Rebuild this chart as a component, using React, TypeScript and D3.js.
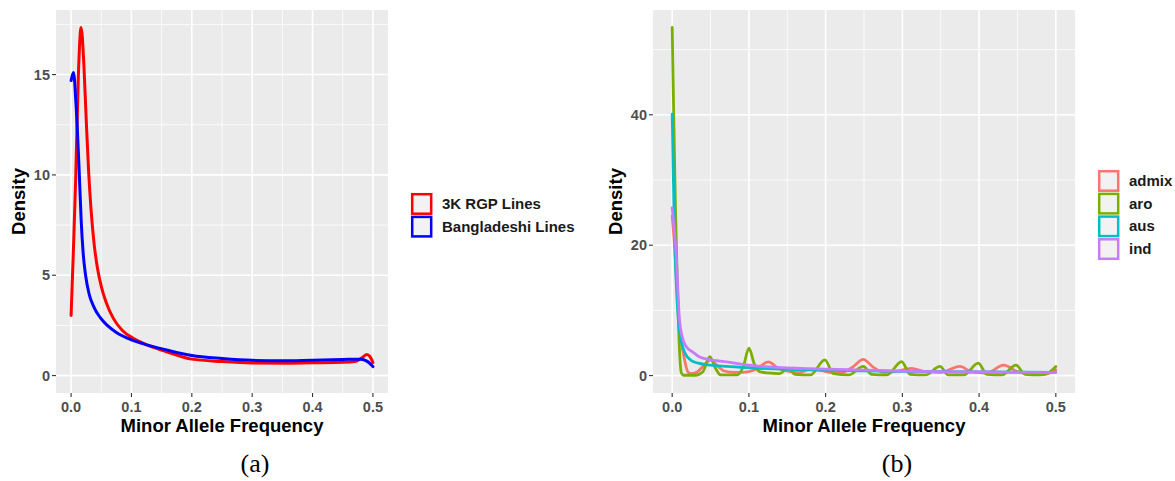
import * as d3 from 'd3';

// panel (a): MAF density, 3K RGP vs Bangladeshi lines  [maf, density]
const rgp3k: [number, number][] = [
  [0, 3.0], [0.004, 6.4], [0.0077, 9.9], [0.012, 14.9], [0.0166, 17.35], [0.021, 15.6],
  [0.025, 12.8], [0.029, 10.2], [0.033, 8.3], [0.038, 6.6], [0.044, 5.3], [0.05, 4.45],
  [0.058, 3.65], [0.07, 2.85], [0.085, 2.25], [0.103, 1.86], [0.12, 1.6], [0.158, 1.19],
  [0.2, 0.82], [0.25, 0.7], [0.3, 0.63], [0.35, 0.62], [0.4, 0.64], [0.45, 0.66],
  [0.47, 0.7], [0.48, 0.85], [0.49, 1.05], [0.495, 0.95], [0.5, 0.65],
];
const bangladeshi: [number, number][] = [
  [0, 14.7], [0.004, 15.1], [0.008, 13.6], [0.0138, 9.9], [0.0166, 7.8], [0.02, 6.1],
  [0.024, 5.0], [0.03, 4.05], [0.038, 3.4], [0.048, 2.9], [0.06, 2.5], [0.075, 2.15],
  [0.1, 1.78], [0.12, 1.58], [0.158, 1.28], [0.2, 1.0], [0.25, 0.85], [0.3, 0.76],
  [0.35, 0.74], [0.4, 0.77], [0.45, 0.8], [0.48, 0.82], [0.49, 0.72], [0.5, 0.45],
];

// panel (b): MAF density by subpopulation
const admix: [number, number][] = [
  [0, 24.5], [0.003, 20], [0.005, 16], [0.0095, 7.5], [0.0144, 3.5], [0.021, 0.5],
  [0.025, 0.3], [0.032, 0.5], [0.04, 1.4], [0.05, 2.4], [0.058, 1.6], [0.068, 0.7],
  [0.08, 0.5], [0.09, 0.5], [0.1, 0.6], [0.11, 1.0], [0.125, 2.1], [0.14, 1.0],
  [0.155, 0.6], [0.165, 0.45], [0.18, 1.0], [0.19, 0.9], [0.205, 0.5], [0.22, 0.4],
  [0.235, 1.3], [0.249, 2.5], [0.262, 1.3], [0.275, 0.5], [0.29, 0.6], [0.312, 1.1],
  [0.33, 0.6], [0.35, 0.5], [0.375, 1.4], [0.39, 0.6], [0.41, 0.4], [0.432, 1.6],
  [0.45, 0.6], [0.47, 0.2], [0.485, 0.2], [0.5, 0.9],
];
const aro: [number, number][] = [
  [0, 53.4], [0.002, 40], [0.0044, 25], [0.007, 13], [0.0095, 4], [0.012, 0.4],
  [0.015, 0.05], [0.03, 0.05], [0.04, 0.6], [0.049, 2.9], [0.057, 1.0], [0.063, 0.1],
  [0.085, 0.1], [0.093, 1.5], [0.1, 4.2], [0.107, 1.8], [0.114, 0.6], [0.125, 0.4],
  [0.14, 0.3], [0.151, 1.1], [0.16, 0.2], [0.18, 0.1], [0.199, 2.4], [0.21, 0.3],
  [0.23, 0.1], [0.249, 1.4], [0.26, 0.2], [0.28, 0.1], [0.299, 2.15], [0.31, 0.2],
  [0.33, 0.1], [0.349, 1.4], [0.36, 0.1], [0.38, 0.1], [0.399, 1.9], [0.41, 0.2],
  [0.43, 0.1], [0.448, 1.6], [0.46, 0.2], [0.48, 0.1], [0.49, 0.4], [0.5, 1.4],
];
const aus: [number, number][] = [
  [0, 40.1], [0.0026, 24], [0.005, 15], [0.008, 8.6], [0.012, 5.2], [0.0165, 3.5],
  [0.025, 2.3], [0.034, 1.9], [0.05, 1.6], [0.071, 1.4], [0.1, 1.2], [0.15, 0.95],
  [0.2, 0.82], [0.3, 0.65], [0.4, 0.55], [0.5, 0.5],
];
const ind: [number, number][] = [
  [0, 25.75], [0.003, 22], [0.005, 18.9], [0.0095, 8.6], [0.013, 6], [0.018, 4.5],
  [0.027, 3.6], [0.035, 2.9], [0.047, 2.5], [0.071, 2.1], [0.1, 1.6], [0.168, 1.1],
  [0.2, 1.0], [0.3, 0.7], [0.4, 0.55], [0.5, 0.45],
];

const mafTicks = [0, 0.1, 0.2, 0.3, 0.4, 0.5];
const mafMinor = [0.05, 0.15, 0.25, 0.35, 0.45];
const densTicksA = [0, 5, 10, 15];
const densMinorA = [2.5, 7.5, 12.5, 17.5];
const densTicksB = [0, 20, 40];
const densMinorB = [10, 30, 50];

type Series = { name: string; color: string; points: [number, number][] };

const seriesA: Series[] = [
  { name: '3K RGP Lines', color: '#FF0000', points: rgp3k },
  { name: 'Bangladeshi Lines', color: '#0000FF', points: bangladeshi },
];
const seriesB: Series[] = [
  { name: 'admix', color: '#F8766D', points: admix },
  { name: 'aro', color: '#7CAE00', points: aro },
  { name: 'aus', color: '#00BFC4', points: aus },
  { name: 'ind', color: '#C77CFF', points: ind },
];

const font = '"Liberation Sans", Arial, sans-serif';

function DensityPanel(props: {
  left: number; right: number; top: number; bottom: number;
  yTicks: number[]; yMinor: number[]; series: Series[];
  lineWidth: number; legendX: number; legendY: number; tag: string;
}) {
  const { left, right, top, bottom, yTicks, yMinor, series, lineWidth, legendX, legendY, tag } = props;
  const yMax = d3.max(series, s => d3.max(s.points, p => p[1])) as number;
  const pad = yMax * 0.05;
  const x = d3.scaleLinear().domain([-0.025, 0.525]).range([left, right]);
  const y = d3.scaleLinear().domain([-pad, yMax + pad]).range([bottom, top]);
  const line = d3
    .line<[number, number]>()
    .x(d => x(d[0]))
    .y(d => y(d[1]))
    .curve(d3.curveMonotoneX);
  const cx = (left + right) / 2;
  const cy = (top + bottom) / 2;

  return (
    <g>
      <rect x={left} y={top} width={right - left} height={bottom - top} fill="#EBEBEB" />
      {mafMinor.map(t => (
        <line key={'xm' + t} x1={x(t)} x2={x(t)} y1={top} y2={bottom} stroke="#fff" strokeWidth={0.8} />
      ))}
      {yMinor.map(t => (
        <line key={'ym' + t} x1={left} x2={right} y1={y(t)} y2={y(t)} stroke="#fff" strokeWidth={0.8} />
      ))}
      {mafTicks.map(t => (
        <line key={'xg' + t} x1={x(t)} x2={x(t)} y1={top} y2={bottom} stroke="#fff" strokeWidth={1.6} />
      ))}
      {yTicks.map(t => (
        <line key={'yg' + t} x1={left} x2={right} y1={y(t)} y2={y(t)} stroke="#fff" strokeWidth={1.6} />
      ))}
      {series.map(s => (
        <path key={s.name} d={line(s.points) as string} fill="none" stroke={s.color}
          strokeWidth={lineWidth} strokeLinejoin="round" strokeLinecap="round" />
      ))}
      {/* axes */}
      {mafTicks.map(t => (
        <g key={'xt' + t}>
          <line x1={x(t)} x2={x(t)} y1={bottom} y2={bottom + 4} stroke="#333" strokeWidth={1.1} />
          <text x={x(t)} y={412} textAnchor="middle" fontFamily={font} fontWeight="bold"
            fontSize={14.5} fill="#4D4D4D">{d3.format('.1f')(t)}</text>
        </g>
      ))}
      {yTicks.map(t => (
        <g key={'yt' + t}>
          <line x1={left - 4} x2={left} y1={y(t)} y2={y(t)} stroke="#333" strokeWidth={1.1} />
          <text x={left - 6} y={y(t) + 5} textAnchor="end" fontFamily={font} fontWeight="bold"
            fontSize={14.5} fill="#4D4D4D">{t}</text>
        </g>
      ))}
      <text x={cx} y={432} textAnchor="middle" fontFamily={font} fontWeight="bold" fontSize={18.5}
        fill="#000">Minor Allele Frequency</text>
      <text transform={`translate(${left - 31},${cy}) rotate(-90)`} textAnchor="middle"
        fontFamily={font} fontWeight="bold" fontSize={18.5} fill="#000">Density</text>
      {/* legend */}
      {series.map((s, i) => (
        <g key={'lg' + s.name} transform={`translate(${legendX},${legendY + i * 22.7})`}>
          <rect x={1.2} y={1.2} width={19} height={19.5} fill="#F2F2F2" stroke={s.color} strokeWidth={2.5} />
          <text x={31} y={16} fontFamily={font} fontWeight="bold" fontSize={15} fill="#1A1A1A">{s.name}</text>
        </g>
      ))}
      <text x={cx + 33} y={472} textAnchor="middle" fontFamily='"Liberation Serif", serif'
        fontSize={26} fill="#000">{tag}</text>
    </g>
  );
}

export default function App() {
  return (
    <svg width={1175} height={481} style={{ position: 'absolute', left: 0, top: 0, background: '#fff' }}>
      <rect width={1175} height={481} fill="#fff" />
      <DensityPanel left={56} right={388} top={10} bottom={393} yTicks={densTicksA} yMinor={densMinorA}
        series={seriesA} lineWidth={3} legendX={411} legendY={193} tag="(a)" />
      <DensityPanel left={653} right={1075} top={10} bottom={393} yTicks={densTicksB} yMinor={densMinorB}
        series={seriesB} lineWidth={2.8} legendX={1098} legendY={170} tag="(b)" />
    </svg>
  );
}
